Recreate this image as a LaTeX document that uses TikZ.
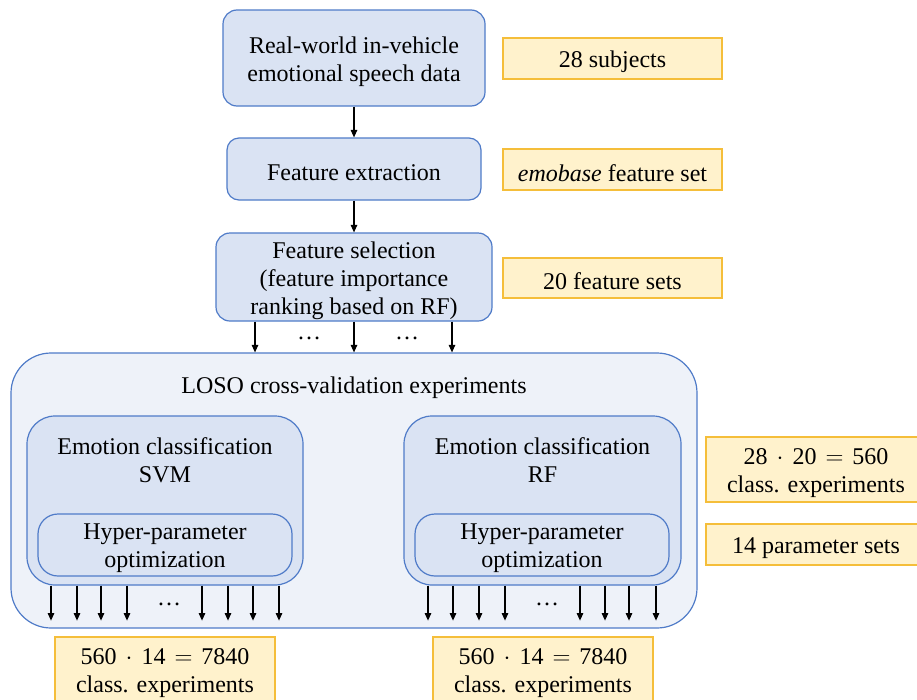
\documentclass[tikz,border=0pt]{standalone}
\usepackage{fontspec}
\setmainfont{Liberation Serif}
\usetikzlibrary{arrows.meta}
\definecolor{boxblue}{HTML}{DAE3F3}
\definecolor{edgeblue}{HTML}{4F7BC8}
\definecolor{paleblue}{HTML}{EEF2F9}
\definecolor{noteyellow}{HTML}{FFF2CC}
\definecolor{noteedge}{HTML}{F5BE3A}
% product formula with roomy operator spacing
\newcommand{\prodeq}[3]{#1\hspace{9pt}$\cdot$\hspace{9pt}#2\hspace{9pt}$=$\hspace{9pt}#3}

\begin{document}
\begin{tikzpicture}[x=1pt,y=-1pt,
  every node/.style={font=\fontsize{24}{28}\selectfont, align=center, inner sep=0pt},
  say/.style={label={[yshift=-3.5pt]center:#1}},
  stage/.style={draw=edgeblue, fill=boxblue, line width=1.2pt, rounded corners=14pt},
  outer/.style={draw=edgeblue, fill=paleblue, line width=1.2pt, rounded corners=40pt},
  classifier/.style={draw=edgeblue, fill=boxblue, line width=1.2pt, rounded corners=28pt},
  tuning/.style={draw=edgeblue, fill=boxblue, line width=1.2pt, rounded corners=20pt},
  note/.style={draw=noteedge, fill=noteyellow, line width=1.2pt, minimum width=219pt},
  flow/.style={-{Triangle[length=7.5pt,width=6.5pt]}, line width=1.1pt},
]
\useasboundingbox (0,0) rectangle (917,699);
\clip (0,0) rectangle (917,699);

% main pipeline
\node[stage, minimum width=262pt, minimum height=96pt,
  say={Real-world in-vehicle\\emotional speech data}] (data) at (354,58) {};
\node[stage, minimum width=254pt, minimum height=62pt, rounded corners=12pt,
  say={Feature extraction}] (fe) at (354,169) {};
\node[stage, minimum width=276pt, minimum height=88pt,
  say={Feature selection\\(feature importance\\ranking based on RF)}] (fs) at (354,277) {};

% cross-validation container
\node[outer, minimum width=686pt, minimum height=275pt] (loso) at (354,490.5) {};
\node (losolabel) at (354,387.5) {LOSO cross-validation experiments};

% classifiers with nested tuning
\node[classifier, minimum width=276pt, minimum height=169pt] (svm) at (165,500.5) {};
\node (svmlabel) at (165,460) {Emotion classification\\SVM};
\node[tuning, minimum width=254pt, minimum height=62pt,
  say={Hyper-parameter\\optimization}] (svmtune) at (165,545) {};

\node[classifier, minimum width=277pt, minimum height=169pt] (rf) at (542.5,500.5) {};
\node (rflabel) at (542.5,460) {Emotion classification\\RF};
\node[tuning, minimum width=254pt, minimum height=62pt,
  say={Hyper-parameter\\optimization}] (rftune) at (542,545) {};

% annotations
\node[note, minimum height=41pt, say={28 subjects}] (subj) at (612.5,58.5) {};
\node[note, minimum height=41pt, say={\textit{emobase} feature set}] (feat) at (612.5,169.5) {};
\node[note, minimum height=40pt, say={20 feature sets}] (sets) at (612.5,278) {};
\node[note, minimum width=220pt, minimum height=65pt,
  say={\prodeq{28}{20}{560}\\class. experiments}] (runs) at (816,469.5) {};
\node[note, minimum width=220pt, minimum height=41pt, say={14 parameter sets}] (params) at (816,544.5) {};
\node[note, minimum width=220pt, minimum height=66pt,
  say={\prodeq{560}{14}{7840}\\class. experiments}] (svmruns) at (165,670) {};
\node[note, minimum width=220pt, minimum height=66pt,
  say={\prodeq{560}{14}{7840}\\class. experiments}] (rfruns) at (543,670) {};

% connectors
\draw[flow] (data) -- (fe);
\draw[flow] (fe) -- (fs);
\foreach \dx in {-99,0,98}
  \draw[flow] ([xshift=\dx pt]fs.south) -- ([xshift=\dx pt]loso.north);
\node (gapa) at (309,338) {\ldots};
\node (gapb) at (407,338) {\ldots};

\foreach \dx in {-114,-88,-64,-38,37,63,88,114}
  \draw[flow] ([xshift=\dx pt]svm.south) -- ++(0,35);
\node (gapc) at (169,604) {\ldots};

\foreach \dx in {-114.5,-89.5,-63.5,-37.5,37.5,62.5,86.5,113.5}
  \draw[flow] ([xshift=\dx pt]rf.south) -- ++(0,35);
\node (gapd) at (547,604) {\ldots};
\end{tikzpicture}
\end{document}
